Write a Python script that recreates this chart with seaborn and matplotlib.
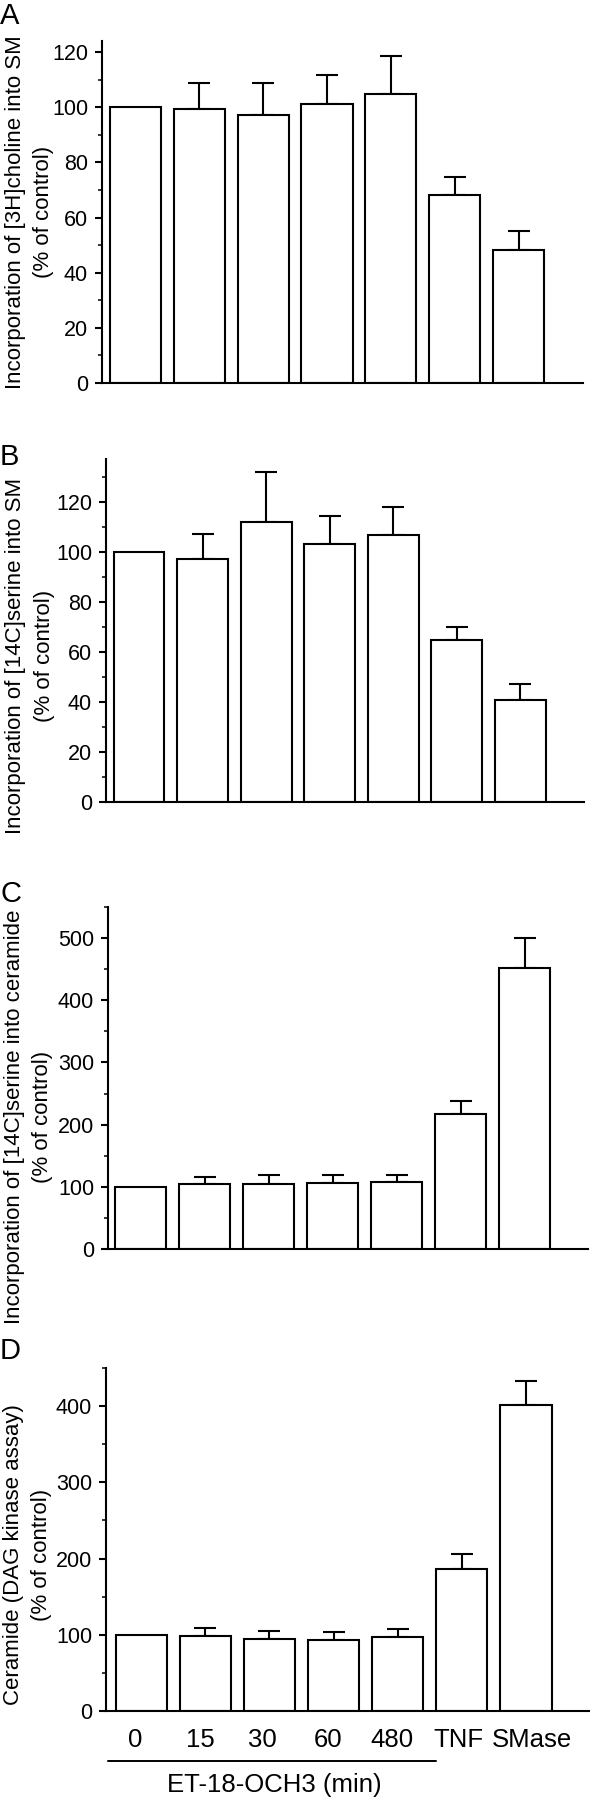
import numpy as np
import pandas as pd
import matplotlib
matplotlib.use("Agg")
import matplotlib.pyplot as plt
import matplotlib.transforms as mtransforms
from matplotlib.ticker import MultipleLocator
import seaborn as sns

# ---------------- data ----------------
categories = ["0", "15", "30", "60", "480", "TNF", "SMase"]

sm_choline = [100, 99.2, 97.2, 101.1, 104.8, 68.0, 48.2]
sm_choline_err = [0, 9.6, 11.4, 10.5, 13.9, 6.7, 6.9]

sm_serine = [100, 97.1, 112.0, 103.2, 106.5, 64.8, 40.6]
sm_serine_err = [0, 10.1, 19.7, 11.0, 11.5, 5.2, 6.4]

cer_serine = [100, 105, 104, 106.6, 107, 217.6, 451.8]
cer_serine_err = [0, 11, 14.4, 12, 12.5, 20.4, 48]

cer_dag = [100, 97.8, 94.7, 93.8, 96.9, 186.2, 401.8]
cer_dag_err = [0, 10.6, 9.7, 9.2, 10.1, 19.6, 31.5]

panel_letters = ["A", "B", "C", "D"]
ylabels = [
    "Incorporation of [3H]choline into SM\n(% of control)",
    "Incorporation of [14C]serine into SM\n(% of control)",
    "Incorporation of [14C]serine into ceramide\n(% of control)",
    "Ceramide (DAG kinase assay)\n(% of control)",
]
group_label = "ET-18-OCH3 (min)"

# ---------------- style ----------------
sns.set_theme(style="ticks")
plt.rcParams["font.family"] = ["Liberation Sans", "DejaVu Sans"]
plt.rcParams["axes.linewidth"] = 1.5

fig = plt.figure(figsize=(5.9, 18), dpi=100)
W, H = 590.0, 1800.0

# axes boxes in pixels: left, right, top, bottom
boxes = [
    (102, 583, 41, 383),
    (106, 584, 459, 802),
    (108, 588, 907, 1249),
    (106, 590, 1368, 1711),
]
ylims = [(0, 124), (0, 137), (0, 550), (0, 450)]
majors = [20, 20, 100, 100]
minors = [10, 10, 50, 50]
xlims = [(-0.525, 7.01), (-0.52, 7.0), (-0.51, 6.99), (-0.55, 7.0)]
label_pos = [(-0.150, 0.50), (-0.159, 0.426), (-0.165, 0.386), (-0.163, 0.455)]
letter_tops = [2, 443, 880, 1337]
tick_sizes = [15.5, 15.5, 15.5, 15.5]
xlabel_shift_px = [-6, -5, -7, -6, -6, -3, 6]

series = [
    (sm_choline, sm_choline_err),
    (sm_serine, sm_serine_err),
    (cer_serine, cer_serine_err),
    (cer_dag, cer_dag_err),
]

for i, ((vals, errs), (l, r, t, b)) in enumerate(zip(series, boxes)):
    ax = fig.add_axes([l / W, 1 - b / H, (r - l) / W, (b - t) / H])
    df = pd.DataFrame({"cond": categories, "value": vals, "err": errs})
    sns.barplot(data=df, x="cond", y="value", order=categories, color="white",
                saturation=1, edgecolor="black", linewidth=1.5, width=0.8,
                errorbar=None, ax=ax, zorder=2)
    pos = np.arange(len(categories))
    err_arr = np.array(errs, dtype=float)
    mask = err_arr > 0
    ax.errorbar(pos[mask], np.array(vals)[mask],
                yerr=[np.zeros(mask.sum()), err_arr[mask]],
                fmt="none", ecolor="black", elinewidth=1.5, capsize=8,
                capthick=1.5, zorder=1)
    ax.set_xlim(*xlims[i])
    ax.set_ylim(*ylims[i])
    ax.yaxis.set_major_locator(MultipleLocator(majors[i]))
    ax.yaxis.set_minor_locator(MultipleLocator(minors[i]))
    ax.tick_params(axis="y", which="major", direction="out", length=5, width=1.5,
                   labelsize=tick_sizes[i], pad=5, colors="black")
    ax.tick_params(axis="y", which="minor", direction="out", length=3, width=1.3)
    ax.tick_params(axis="x", length=0, labelsize=18.5, pad=12, colors="black")
    sns.despine(ax=ax)
    for s in ("left", "bottom"):
        ax.spines[s].set_color("black")
        ax.spines[s].set_linewidth(1.5)
    ax.set_xlabel("")
    ax.set_ylabel(ylabels[i], fontsize=16, linespacing=1.45, color="black",
                  ha="center", va="center", multialignment="center")
    ax.yaxis.set_label_coords(*label_pos[i])
    if i < 3:
        ax.tick_params(axis="x", labelbottom=False)
    else:
        for lab, dx in zip(ax.get_xticklabels(), xlabel_shift_px):
            lab.set_transform(lab.get_transform() +
                              mtransforms.ScaledTranslation(dx / 100.0, 0,
                                                            fig.dpi_scale_trans))
        trans = mtransforms.blended_transform_factory(ax.transData, ax.transAxes)
        ax.plot([-0.52, 4.6], [-0.146, -0.146], transform=trans, clip_on=False,
                color="black", lw=1.4)
        ax.text(2.07, -0.216, group_label, transform=trans, ha="center",
                va="center", fontsize=18.5, color="black")
    fig.text(0.0, 1 - letter_tops[i] / H, panel_letters[i], fontsize=21,
             ha="left", va="top", color="black")

fig.savefig("out.png", dpi=100)
